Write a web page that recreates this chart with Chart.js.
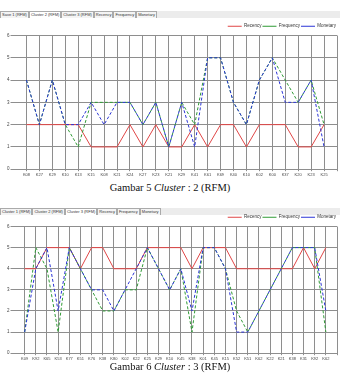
<!DOCTYPE html>
<html><head><meta charset="utf-8">
<script src="https://cdn.jsdelivr.net/npm/chart.js@4/dist/chart.umd.min.js"></script>
<style>
html,body{margin:0;padding:0;background:#fff;width:340px;height:376px;overflow:hidden;}
.tabs{position:absolute;left:0;width:340px;height:7px;background:#ececec;font:4px "Liberation Sans",Arial,sans-serif;color:#333;white-space:nowrap;}
.tabs span{display:inline-block;border:1px solid #aaa;border-bottom:none;background:#f4f4f4;padding:0 1px;height:6px;line-height:6px;}
.tabs span.sel{background:#fff;}
.box{position:absolute;left:0;width:340px;}
.cap{position:absolute;left:0;width:340px;text-align:center;font:10.5px "Liberation Serif","Times New Roman",serif;color:#111;}
</style></head><body>
<div class="tabs" style="top:11px"><span>Save 1 (RFM)</span><span class="sel">Cluster 2 (RFM)</span><span>Cluster 3 (RFM)</span><span>Recency</span><span>Frequency</span><span>Monetary</span></div>
<div class="box" style="top:20px;height:158px"><canvas id="c1"></canvas></div>
<div class="cap" style="top:182px">Gambar 5 <i>Cluster</i> : 2 (RFM)</div>
<div class="tabs" style="top:208px"><span>Cluster 1 (RFM)</span><span>Cluster 2 (RFM)</span><span class="sel">Cluster 3 (RFM)</span><span>Recency</span><span>Frequency</span><span>Monetary</span></div>
<div class="box" style="top:211px;height:151px"><canvas id="c2"></canvas></div>
<div class="cap" style="top:361px">Gambar 6 <i>Cluster</i> : 3 (RFM)</div>
<script>
// Chart 1: Cluster 2 (RFM)
const labels1 = ['K08','K27','K29','K10','K13','K15','K08','K21','K24','K27','K23','K21','K29','K41','K61','K69','K40','K10','K02','K00','K37','K20','K23','K25'];
const recency1   = [2,2,2,2,2,1,1,1,2,1,2,1,1,2,1,2,2,1,2,2,2,1,1,2];
const frequency1 = [4,2,4,2,1,3,3,3,3,2,3,1,3,2,5,5,3,2,4,5,4,3,4,2];
const monetary1  = [4,2,4,2,2,3,2,3,3,2,3,1,3,1,5,5,3,2,4,5,3,3,4,1];

// Chart 2: Cluster 3 (RFM)
const labels2 = ['K09','K92','K65','K53','K77','K51','K76','K38','K80','K02','K22','K25','K29','K10','K45','K38','K01','K45','K15','K52','K51','K62','K22','K21','K38','K31','K92','K62'];
const recency2   = [4,4,5,5,5,4,5,5,4,4,4,5,5,5,5,4,5,5,5,4,4,4,4,4,4,5,4,5];
const frequency2 = [1,5,4,1,5,4,3,2,2,3,3,5,4,3,4,1,5,5,4,2,1,2,3,4,5,5,5,1];
const monetary2  = [1,4,5,2,5,4,3,3,2,3,4,5,4,3,4,2,5,5,4,1,1,2,3,4,5,5,5,2];

const yTicks = [0,1,2,3,4,5,6];
const FONT = "'Liberation Sans', Arial, sans-serif";

function pad(arr, fill){ return [fill].concat(arr, [fill]); }

function makeChart(id, labels, rec, freq, mon, legendShift){
  const gridCol = '#8e8e8e';
  const shiftLegend = {
    id: 'shiftLegend',
    afterLayout(chart){ if (chart.legend){ chart.legend.top += legendShift; chart.legend.bottom += legendShift; } }
  };
  return new Chart(document.getElementById(id), {
    type: 'line',
    plugins: [shiftLegend],
    data: {
      labels: pad(labels, ''),
      datasets: [
        {label:'Monetary', data: pad(mon, null), borderColor:'#2b34d6', backgroundColor:'#2b34d6', borderDash:[3,2], borderWidth:1, pointRadius:0, tension:0},
        {label:'Frequency', data: pad(freq, null), borderColor:'#2f9a35', backgroundColor:'#2f9a35', borderDash:[3,2], borderWidth:1, pointRadius:0, tension:0},
        {label:'Recency', data: pad(rec, null), borderColor:'#e04646', backgroundColor:'#e04646', borderWidth:1, pointRadius:0, tension:0}
      ]
    },
    options: {
      responsive: true, maintainAspectRatio: false, animation: false,
      layout: {padding: {left: 6, right: 3, top: 0, bottom: 0}},
      plugins: {
        tooltip: {enabled:false},
        legend: {
          display: true, position: 'top', align: 'end', reverse: true,
          labels: {usePointStyle: true, pointStyle: 'line', pointStyleWidth: 14, boxHeight: 4,
                   font: {family: FONT, size: 4.5}, color: '#333', padding: 1}
        }
      },
      scales: {
        x: {
          type: 'category', offset: false,
          grid: {color: (c) => c.index === 0 ? 'rgba(0,0,0,0)' : gridCol, lineWidth: 1, drawTicks: true, tickLength: 2},
          border: {display: true, color: gridCol},
          ticks: {autoSkip: false, maxRotation: 0, minRotation: 0, padding: 1, font: {family: FONT, size: 4}, color: '#444'}
        },
        y: {
          min: 0, max: 6,
          afterBuildTicks: (s) => { s.ticks = yTicks.map(v => ({value: v})); },
          grid: {color: gridCol, lineWidth: 1, tickLength: 3},
          border: {display: false},
          ticks: {padding: 1, font: {family: FONT, size: 4.5}, color: '#444'}
        }
      }
    }
  });
}
makeChart('c1', labels1, recency1, frequency1, monetary1, 3);
makeChart('c2', labels2, recency2, frequency2, monetary2, 3);
</script>
</body></html>
